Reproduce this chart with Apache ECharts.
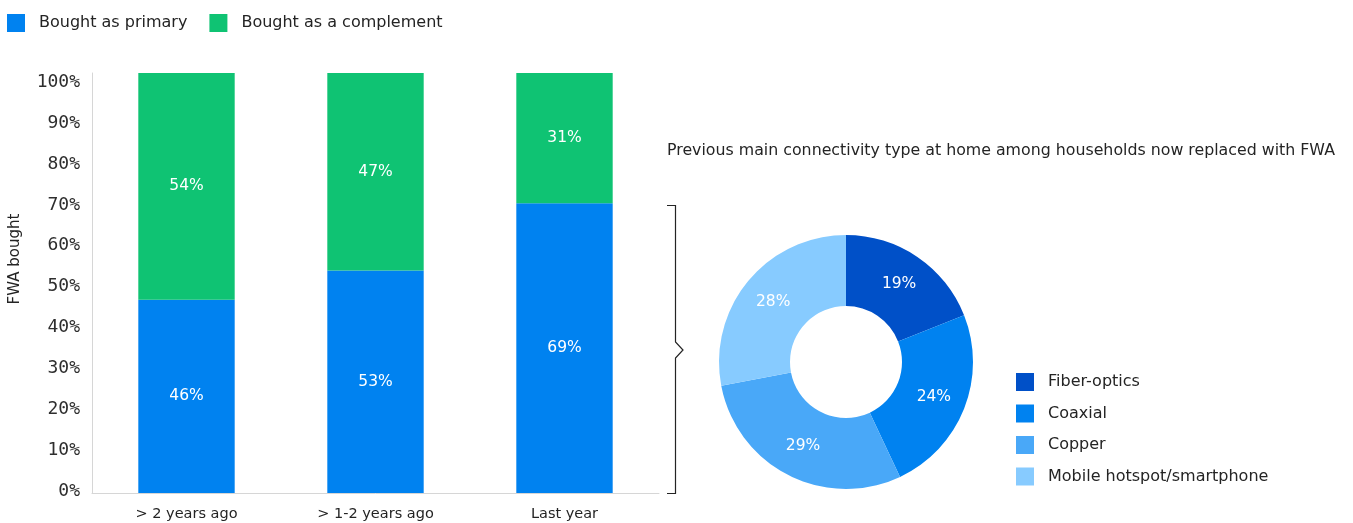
<!DOCTYPE html>
<html>
<head>
<meta charset="utf-8">
<script src="https://cdn.jsdelivr.net/npm/echarts@6/dist/echarts.min.js"></script>
<style>
  html, body { margin: 0; padding: 0; background: #fff; }
  #chart { width: 1353px; height: 523px; }
</style>
</head>
<body>
<div id="chart"></div>
<script>
// Purchase timing of FWA, split by primary vs. complementary purchase
const periods = ['> 2 years ago', '> 1-2 years ago', 'Last year'];
const boughtPrimary = [46, 53, 69];
const boughtComplement = [54, 47, 31];
const yTicks = [0, 10, 20, 30, 40, 50, 60, 70, 80, 90, 100];

// Previous connectivity type among households that switched to FWA
const connTypes = ['Fiber-optics', 'Coaxial', 'Copper', 'Mobile hotspot/smartphone'];
const connShares = [19, 24, 29, 28];
const connColors = ['#0050c8', '#0082f0', '#49a8f8', '#87cbff'];

const textFont = '"DejaVu Sans", sans-serif';
const textColor = '#242424';

const chart = echarts.init(document.getElementById('chart'));

const barLabel = {
  show: true,
  position: 'inside',
  color: '#fff',
  fontFamily: textFont,
  fontSize: 15.5,
  formatter: p => p.value + '%'
};

const legendText = { fontFamily: textFont, fontSize: 16, color: textColor, padding: [0, 0, 0, 9] };

chart.setOption({
  animation: false,
  legend: [{
    data: ['Bought as primary', 'Bought as a complement'],
    left: 2,
    top: 9,
    itemWidth: 18,
    itemHeight: 18,
    itemGap: 22,
    icon: 'rect',
    textStyle: legendText
  }, {
    data: connTypes,
    orient: 'vertical',
    left: 1011,
    top: 368,
    itemWidth: 18,
    itemHeight: 18,
    itemGap: 13.5,
    icon: 'rect',
    textStyle: legendText
  }],
  title: {
    text: 'Previous main connectivity type at home among households now replaced with FWA',
    left: 662,
    top: 138,
    textStyle: { fontFamily: textFont, fontSize: 15.8, fontWeight: 'normal', color: textColor }
  },
  grid: [
    { left: 92, top: 73, width: 567, bottom: 30, containLabel: false },
    // tick-label track for the percentage scale
    { left: 92, top: 82, width: 567, bottom: 31.5, containLabel: false }
  ],
  xAxis: [{
    type: 'category',
    data: periods,
    axisLine: { show: true, lineStyle: { color: '#d6d6d6', width: 1 } },
    axisTick: { show: false },
    axisLabel: { fontFamily: textFont, fontSize: 14.5, color: textColor, margin: 14 }
  }, {
    type: 'category',
    gridIndex: 1,
    data: periods,
    show: false
  }],
  yAxis: [{
    type: 'value',
    min: yTicks[0],
    max: yTicks[yTicks.length - 1],
    interval: yTicks[1] - yTicks[0],
    axisLine: { show: true, lineStyle: { color: '#d6d6d6', width: 1 } },
    axisTick: { show: false },
    splitLine: { show: false },
    axisLabel: { show: false }
  }, {
    type: 'value',
    gridIndex: 1,
    min: yTicks[0],
    max: yTicks[yTicks.length - 1],
    interval: yTicks[1] - yTicks[0],
    axisLine: { show: false },
    axisTick: { show: false },
    splitLine: { show: false },
    axisLabel: {
      fontFamily: '"DejaVu Sans Mono", monospace',
      fontSize: 18,
      color: '#2e2e2e',
      margin: 12,
      formatter: '{value}%'
    }
  }],
  series: [{
    name: 'Bought as primary',
    type: 'bar',
    stack: 'fwa',
    barWidth: '51%',
    data: boughtPrimary,
    itemStyle: { color: '#0082f0' },
    label: barLabel
  }, {
    name: 'Bought as a complement',
    type: 'bar',
    stack: 'fwa',
    barWidth: '51%',
    data: boughtComplement,
    itemStyle: { color: '#0fc373' },
    label: barLabel
  }, {
    name: 'Previous connectivity',
    type: 'pie',
    center: [846, 362],
    radius: [56, 127],
    startAngle: 90,
    clockwise: true,
    data: connTypes.map((name, i) => ({ name, value: connShares[i], itemStyle: { color: connColors[i] } })),
    label: {
      show: true,
      position: 'inside',
      color: '#fff',
      fontFamily: textFont,
      fontSize: 15.5,
      formatter: p => p.value + '%'
    },
    labelLine: { show: false },
    emphasis: { disabled: true }
  }],
  graphic: [{
    // y-axis title
    type: 'text',
    x: 15,
    y: 259,
    rotation: Math.PI / 2,
    style: {
      text: 'FWA bought',
      fontFamily: textFont,
      fontSize: 15,
      fill: textColor,
      align: 'center',
      verticalAlign: 'middle'
    }
  }, {
    // bracket linking the bars to the donut
    type: 'polyline',
    shape: {
      points: [[667, 205.5], [675.5, 205.5], [675.5, 342], [683, 350], [675.5, 358], [675.5, 493.5], [667, 493.5]]
    },
    style: { stroke: '#242424', lineWidth: 1.2, fill: null }
  }]
});
</script>
</body>
</html>
